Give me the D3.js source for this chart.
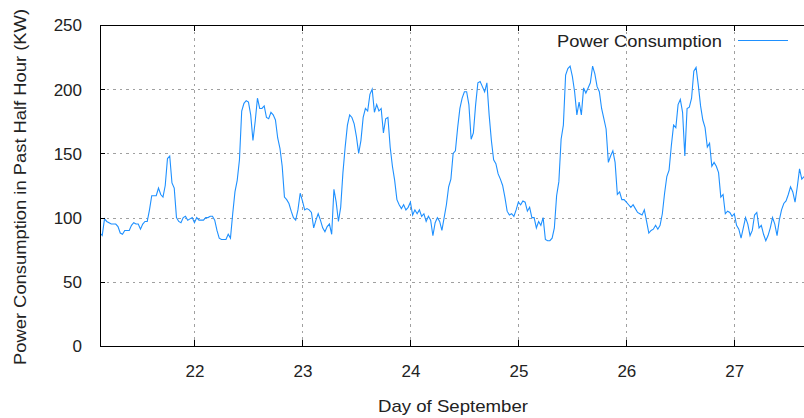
<!DOCTYPE html>
<html>
<head>
<meta charset="utf-8">
<script src="https://cdn.jsdelivr.net/npm/d3@7"></script>
<style>
  html, body { margin: 0; padding: 0; background: #fff; }
  svg { display: block; }
  text { font-family: "Liberation Sans", Arial, Helvetica, sans-serif; fill: #222; }
</style>
</head>
<body>
<svg id="chart" width="804" height="418"></svg>
<script>
// ---- data ----
const startDay = 21.125;        // Sep 21, 03:00
const stepDays = 1 / 48;        // half-hourly readings
const power = [
  88, 86, 99, 97, 96, 95, 95, 95, 93, 88, 87, 90, 90, 90, 94, 96, 95, 95, 91, 95,
  97, 97, 106, 117, 117, 117, 123, 118, 116, 125, 146, 148, 127, 123, 100, 97, 96, 100, 101, 98,
  99, 100, 96, 100, 98, 98, 98, 100, 100, 101, 101, 98, 90, 84, 83, 83, 83, 87, 84, 103,
  120, 129, 145, 183, 189, 191, 190, 180, 160, 175, 193, 185, 185, 187, 178, 177,
  182, 180, 176, 162, 154, 140, 116, 114, 111, 105, 100, 98, 106, 119, 113, 106, 107, 106, 104, 92,
  98, 103, 98, 92, 89, 93, 95, 87, 122, 112, 97, 108, 135, 155, 172, 180, 178, 173,
  163, 150, 160, 178, 185, 183, 196, 200, 182, 188, 183, 185, 166, 177, 178, 155, 140, 129, 114, 110,
  107, 110, 106, 108, 112, 102, 106, 103, 106, 101, 103, 97, 101, 98, 86, 96, 100, 97,
  90, 100, 110, 124, 130, 150, 152, 170, 185, 193, 198, 198, 188, 161, 166, 188, 205, 206, 202, 198,
  205, 180, 160, 145, 142, 134, 130, 125, 116, 105, 102, 103, 101, 106, 112, 110, 113, 112,
  105, 108, 100, 100, 92, 97, 94, 100, 83, 82, 82, 84, 92, 117, 128, 161, 172, 211, 216, 218,
  210, 198, 180, 190, 180, 201, 197, 201, 205, 218, 212, 202, 198, 185, 177, 169, 143, 148,
  152, 143, 118, 120, 114, 114, 112, 110, 108, 110, 107, 104, 103, 102, 106, 97, 88, 90, 91, 94,
  91, 94, 103, 119, 132, 137, 156, 172, 170, 188, 192, 182, 148, 185, 186, 193, 214, 217,
  203, 187, 176, 170, 155, 158, 140, 143, 140, 135, 116, 118, 103, 105, 104, 101, 103, 94, 91, 84,
  92, 100, 95, 86, 90, 102, 104, 92, 94, 87, 82, 86, 92, 100, 95, 86, 98, 106, 111, 113, 118, 124, 120, 112, 124, 138, 130, 132
];
const xTicks = [22, 23, 24, 25, 26, 27];
const yTicks = [0, 50, 100, 150, 200, 250];
const xGrid = [22, 23, 24, 25, 26, 27];
const yGrid = [50, 100, 150, 200];
const seriesName = "Power Consumption";
const xTitle = "Day of September";
const yTitle = "Power Consumption in Past Half Hour (KW)";

// ---- layout ----
const L = 100, T = 25, R = 806, B = 346;
const lineColor = "#1e90ff";
const svg = d3.select("#chart");
svg.append("rect").attr("width", 804).attr("height", 418).attr("fill", "#fff");

const x = d3.scaleLinear().domain([21.125, 27.664]).range([L, R]);
const y = d3.scaleLinear().domain([0, 250]).range([B, T]);

// grid
const grid = svg.append("g").attr("stroke", "#a0a0a0").attr("stroke-width", 1)
  .attr("stroke-dasharray", "2.5,4").attr("shape-rendering", "crispEdges");
grid.selectAll(".gy").data(yGrid).join("line")
  .attr("x1", L).attr("x2", R).attr("y1", d => Math.round(y(d)) + 0.5).attr("y2", d => Math.round(y(d)) + 0.5);
grid.selectAll(".gx").data(xGrid).join("line")
  .attr("y1", T).attr("y2", B).attr("x1", d => Math.round(x(d)) + 0.5).attr("x2", d => Math.round(x(d)) + 0.5);

// line
svg.append("clipPath").attr("id", "clip").append("rect")
  .attr("x", L).attr("y", T).attr("width", R - L).attr("height", B - T);
const pts = power.map((v, i) => [startDay + i * stepDays, v]);
svg.append("path").datum(pts)
  .attr("clip-path", "url(#clip)")
  .attr("fill", "none").attr("stroke", lineColor).attr("stroke-width", 1.1)
  .attr("stroke-linejoin", "miter")
  .attr("d", d3.line().x(d => x(d[0])).y(d => y(d[1])));

// axes
const fontSize = 17;
const yAxis = svg.append("g").attr("transform", `translate(${L},0)`)
  .call(d3.axisLeft(y).tickValues(yTicks).tickSize(-5).tickPadding(18).tickFormat(d3.format("d")));
const xAxis = svg.append("g").attr("transform", `translate(0,${B})`)
  .call(d3.axisBottom(x).tickValues(xTicks).tickSize(-6).tickPadding(18.5).tickFormat(d3.format("d")));
const xTop = svg.append("g").attr("transform", `translate(0,${T})`)
  .call(d3.axisTop(x).tickValues(xTicks).tickSize(-6).tickFormat(() => ""));
[yAxis, xAxis, xTop].forEach(g => {
  g.select(".domain").remove();
  g.selectAll("line").attr("stroke", "#000").attr("shape-rendering", "crispEdges");
  g.selectAll("text").attr("font-size", fontSize).attr("fill", "#222")
    .attr("font-family", "Liberation Sans, Arial, Helvetica, sans-serif");
});
yAxis.selectAll("text").attr("dy", "0.35em");

// frame
svg.append("rect").attr("x", L + 0.5).attr("y", T + 0.5).attr("width", R - L).attr("height", B - T)
  .attr("fill", "none").attr("stroke", "#000").attr("stroke-width", 1).attr("shape-rendering", "crispEdges");

// titles
svg.append("text").attr("x", 453).attr("y", 412).attr("text-anchor", "middle")
  .attr("font-size", fontSize).attr("textLength", 150).attr("lengthAdjust", "spacingAndGlyphs").text(xTitle);
svg.append("text").attr("transform", "translate(26,187) rotate(-90)").attr("text-anchor", "middle")
  .attr("font-size", fontSize).attr("textLength", 356).attr("lengthAdjust", "spacingAndGlyphs").text(yTitle);

// legend
svg.append("text").attr("x", 722).attr("y", 46.7).attr("text-anchor", "end")
  .attr("font-size", fontSize).attr("textLength", 165).attr("lengthAdjust", "spacingAndGlyphs").text(seriesName);
svg.append("line").attr("x1", 738).attr("x2", 788).attr("y1", 40.5).attr("y2", 40.5)
  .attr("stroke", lineColor).attr("stroke-width", 1.1);
</script>
</body>
</html>
